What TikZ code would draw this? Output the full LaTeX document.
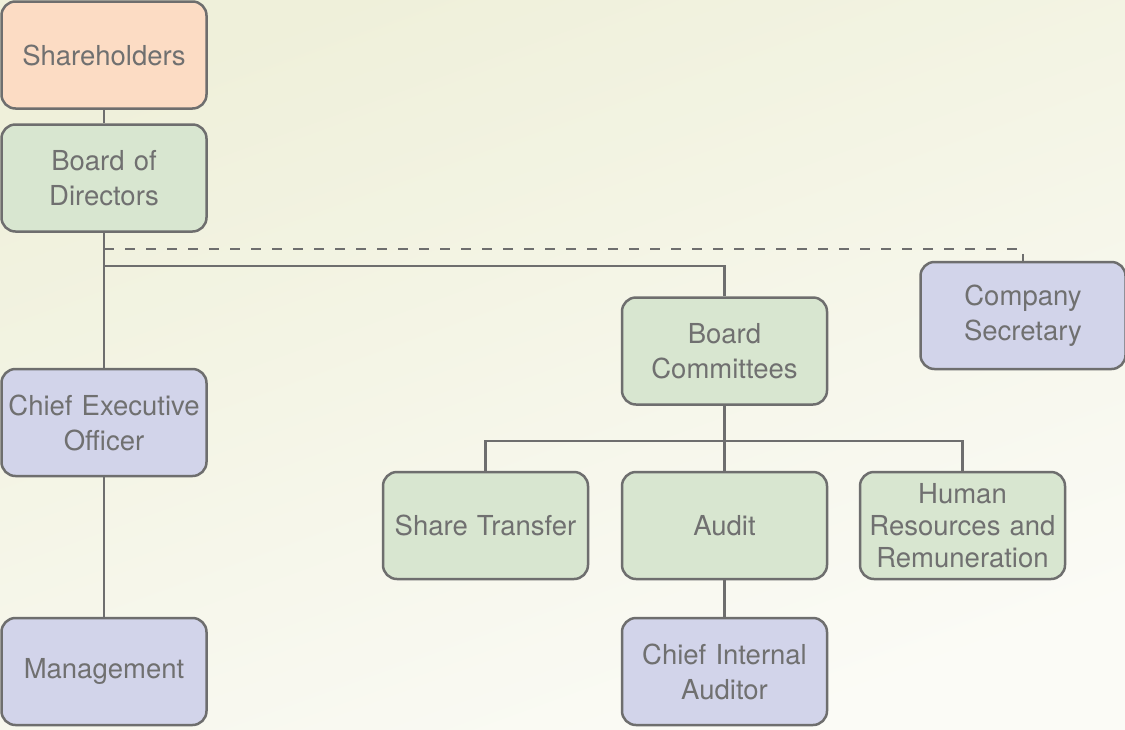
\documentclass[tikz,border=0pt]{standalone}
\usepackage{fontspec}
\setmainfont{TeX Gyre Heros}
\definecolor{edgegray}{RGB}{110, 110, 110}
\definecolor{textgray}{RGB}{112, 112, 112}
\definecolor{ownerpeach}{RGB}{252, 220, 196}
\definecolor{boardgreen}{RGB}{216, 230, 208}
\definecolor{execlilac}{RGB}{210, 212, 234}
\definecolor{bgtop}{RGB}{239, 240, 218}
\definecolor{bgbottom}{RGB}{251, 251, 246}
\usetikzlibrary{positioning, calc}

\begin{document}
\begin{tikzpicture}[x=1pt, y=-1pt,
    orgbox/.style={draw=edgegray, line width=2.5pt, rounded corners=14pt,
      minimum width=205pt, minimum height=107pt, text width=201pt, align=center,
      inner sep=0pt, text=textgray, font=\fontsize{27.5}{35}\selectfont},
    peach/.style={orgbox, fill=ownerpeach},
    green/.style={orgbox, fill=boardgreen},
    lilac/.style={orgbox, fill=execlilac},
    link/.style={draw=edgegray, line width=2.5pt}]
  % Background
  \shade[top color=bgtop, bottom color=bgbottom, shading angle=20] (0,0) rectangle (1125,729);
  \useasboundingbox (0,0) rectangle (1125,729);

  % Left column
  \node[peach] (share) at (104, 55) {Shareholders};
  \node[green] (board) at (104, 178) {Board of\\Directors};
  \node[lilac] (ceo) at (104, 422.5) {Chief Executive\\Officer};
  \node[lilac] (mgmt) at (104, 671.5) {Management};

  % Committees
  \node[green] (comm) at (724.5, 351) {Board\\Committees};
  \node[lilac] (secr) at (1023, 315.5) {Company\\Secretary};
  \node[green] (transfer) at (485.5, 525.5) {Share Transfer};
  \node[green] (audit) at (724.5, 525.5) {Audit};
  \node[green, font=\fontsize{27.5}{32}\selectfont] (hr) at (962.5, 525.5) {Human\\Resources and\\Remuneration};
  \node[lilac] (cia) at (724.5, 671.5) {Chief Internal\\Auditor};

  % Connectors
  \draw[link] (share) -- (board);
  \draw[link] (board) -- (ceo);
  \draw[link] (ceo) -- (mgmt);
  \draw[link, dash pattern=on 10pt off 11pt] ([yshift=-16pt]board.south) -| (secr.north);
  \draw[link] ([yshift=-33pt]board.south) -| (comm.north);
  \draw[link] (comm.south) -- ++(0,35) coordinate (split);
  \draw[link] (transfer.north) |- (split) -| (hr.north);
  \draw[link] (split) -- (audit.north);
  \draw[link] (audit) -- (cia);
\end{tikzpicture}
\end{document}
